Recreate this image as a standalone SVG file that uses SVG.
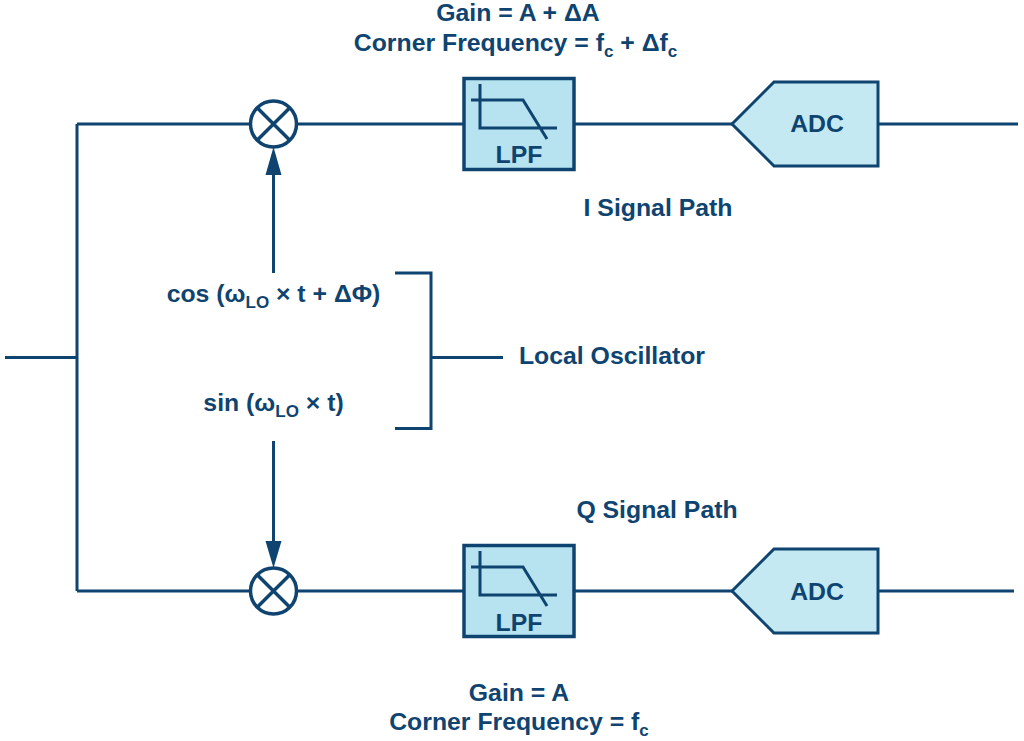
<svg xmlns="http://www.w3.org/2000/svg" width="1024" height="741" viewBox="0 0 1024 741">
<style>
.w{fill:none;stroke:#0f4470;stroke-width:3}
.t{font-family:"Liberation Sans",Arial,sans-serif;font-weight:700;font-size:24.8px;fill:#0f4470;text-anchor:middle}
.s{font-size:17px}
.lpf{fill:#b6e3ef;stroke:#0f4470;stroke-width:3.500}
.adc{fill:#c4e9f2;stroke:#0f4470;stroke-width:3}
.mix{fill:#fff;stroke:#0f4470;stroke-width:3.500}
</style>
<defs>
<g id="mixer"><circle class="mix" r="23"/><path class="mix" d="M-16.300-16.300L16.300 16.300M-16.300 16.300L16.300-16.300"/></g>
<g id="filter"><rect class="lpf" x="-55" y="-45.500" width="110" height="91"/><path class="w" d="M-39-40V4H38M-48-24H4L28 15"/></g>
<path id="adcshape" class="adc" d="M-41 0L1-42H105V42H1Z"/>
</defs>
<g id="connectors">
<path class="w" d="M5 357.500H77M77 124H250M77 591H250M77 124V591"/>
<path class="w" d="M298 124H464M574 124H732M878 124H1018M298 591H464M574 591H732M878 591H1014"/>
<path class="w" d="M273.500 273V170M273.500 441V545"/>
<path d="M273.500 147L281.500 175H265.500Z" fill="#0f4470"/>
<path d="M273.500 568L281.500 541H265.500Z" fill="#0f4470"/>
<path class="w" d="M395 273H431V428.500H395M431 357.500H503"/>
</g>
<g id="mixer-i"><use href="#mixer" x="273.500" y="124"/></g>
<g id="mixer-q"><use href="#mixer" x="273.500" y="591"/></g>
<g id="lpf-i"><use href="#filter" x="519" y="124"/><text class="t" x="519" y="163">LPF</text></g>
<g id="lpf-q"><use href="#filter" x="519" y="591"/><text class="t" x="519" y="631">LPF</text></g>
<g id="adc-i"><use href="#adcshape" x="773" y="124"/><text class="t" x="817" y="132">ADC</text></g>
<g id="adc-q"><use href="#adcshape" x="773" y="591"/><text class="t" x="817" y="600">ADC</text></g>
<g id="labels">
<text class="t" x="518" y="21">Gain = A + ΔA</text>
<text class="t" x="515.500" y="51">Corner Frequency = f<tspan class="s" dy="6">c</tspan><tspan dy="-6"> + Δf</tspan><tspan class="s" dy="6">c</tspan></text>
<text class="t" x="658" y="216">I Signal Path</text>
<text class="t" x="273.500" y="302">cos (ω<tspan class="s" dy="6">LO</tspan><tspan dy="-6"> × t + ΔΦ)</tspan></text>
<text class="t" x="273.500" y="411">sin (ω<tspan class="s" dy="6">LO</tspan><tspan dy="-6"> × t)</tspan></text>
<text class="t" x="612" y="364">Local Oscillator</text>
<text class="t" x="657" y="518">Q Signal Path</text>
<text class="t" x="519" y="701">Gain = A</text>
<text class="t" x="519" y="730">Corner Frequency = f<tspan class="s" dy="6">c</tspan></text>
</g>
</svg>
